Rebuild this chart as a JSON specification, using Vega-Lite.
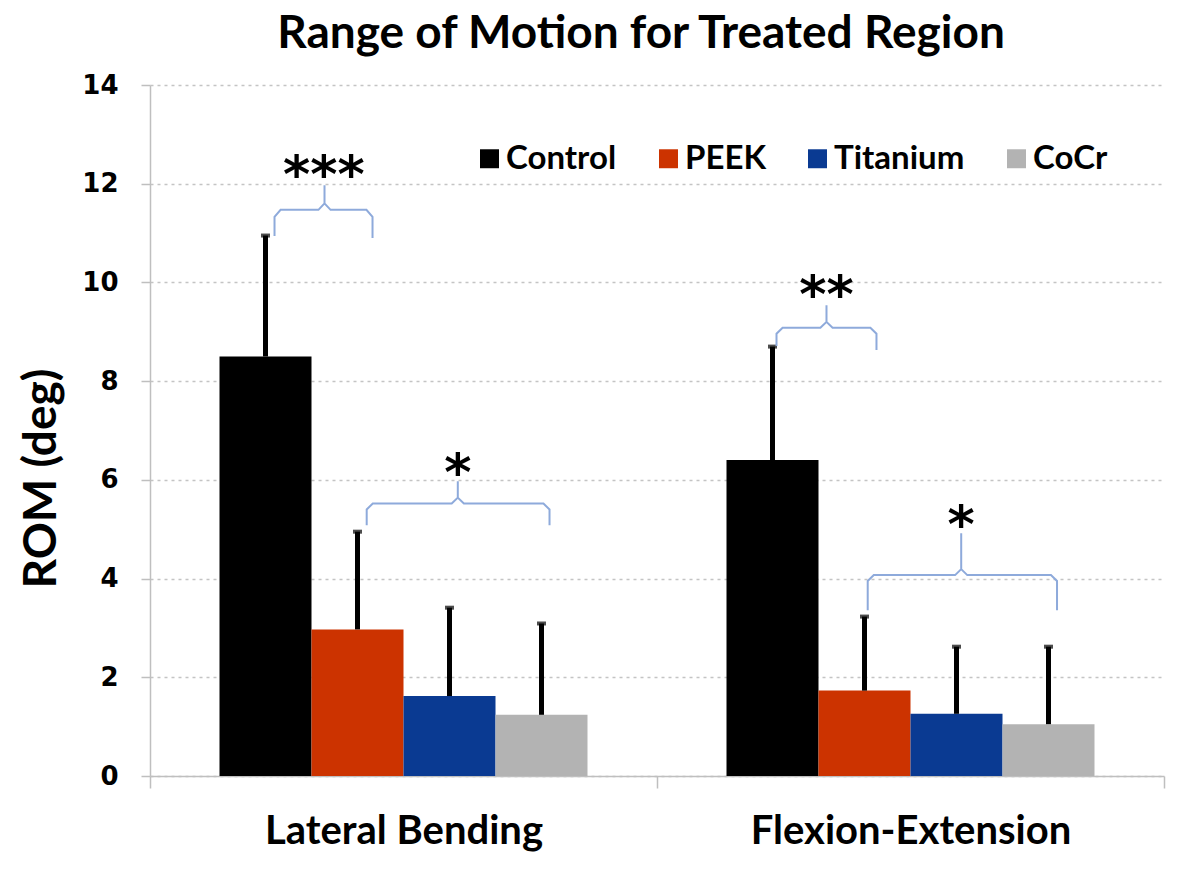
{
  "$schema": "https://vega.github.io/schema/vega-lite/v6.json",
  "width": 1014,
  "height": 691,
  "autosize": {"type": "none"},
  "padding": {"left": 150, "top": 85, "right": 36, "bottom": 95},
  "background": "white",
  "title": {"text": "Range of Motion for Treated Region", "font": "Lato", "fontSize": 46, "fontWeight": "bold", "color": "black", "anchor": "middle", "dx": -16, "offset": 14},
  "config": {
    "view": {"stroke": null},
    "axisX": {"domainColor": "#bfbfbf", "domainWidth": 1.5, "tickColor": "#bfbfbf", "tickWidth": 1.5, "tickSize": 12, "tickBand": "extent", "labelFont": "Lato", "labelFontWeight": "bold", "labelFontSize": 40, "labelColor": "black", "labelPadding": 23, "labelAngle": 0, "labelLimit": 0, "grid": false},
    "axisY": {"domainColor": "#bfbfbf", "domainWidth": 1.5, "tickColor": "#bfbfbf", "tickWidth": 1.5, "tickSize": 9, "grid": true, "gridColor": "#c4c4c4", "gridDash": [3, 4], "gridWidth": 1.5, "labelFont": "DejaVu Sans", "labelFontWeight": "bold", "labelFontSize": 26, "labelColor": "black", "labelPadding": 23, "titleFont": "Lato", "titleFontWeight": "bold", "titleFontSize": 46, "titleColor": "black", "titleX": -109, "titleY": 393, "titleAlign": "center", "titleBaseline": "middle", "titleAngle": -90},
    "legend": {"orient": "none", "legendX": 323, "legendY": 57, "direction": "horizontal", "symbolType": "square", "symbolSize": 360, "symbolStrokeWidth": 0, "symbolOpacity": 1, "labelFont": "Lato", "labelFontWeight": "bold", "labelFontSize": 33, "labelColor": "black", "columnPadding": 35, "labelOffset": 0}
  },
  "datasets": {
    "bars": [
      {"motion": "Lateral Bending", "material": "Control", "mean": 8.50, "upper": 10.95},
      {"motion": "Lateral Bending", "material": "PEEK", "mean": 2.97, "upper": 4.95},
      {"motion": "Lateral Bending", "material": "Titanium", "mean": 1.62, "upper": 3.41},
      {"motion": "Lateral Bending", "material": "CoCr", "mean": 1.24, "upper": 3.09},
      {"motion": "Flexion-Extension", "material": "Control", "mean": 6.40, "upper": 8.70},
      {"motion": "Flexion-Extension", "material": "PEEK", "mean": 1.73, "upper": 3.23},
      {"motion": "Flexion-Extension", "material": "Titanium", "mean": 1.26, "upper": 2.62},
      {"motion": "Flexion-Extension", "material": "CoCr", "mean": 1.05, "upper": 2.62}
    ],
    "braces": [
      {"brace": "a", "step": 1, "pos": 0.2456, "rom": 10.94},
      {"brace": "a", "step": 2, "pos": 0.2456, "rom": 11.33},
      {"brace": "a", "step": 3, "pos": 0.2576, "rom": 11.47},
      {"brace": "a", "step": 4, "pos": 0.3322, "rom": 11.47},
      {"brace": "a", "step": 5, "pos": 0.3442, "rom": 11.60},
      {"brace": "a", "step": 6, "pos": 0.3442, "rom": 11.97},
      {"brace": "a", "step": 7, "pos": 0.3442, "rom": 11.60},
      {"brace": "a", "step": 8, "pos": 0.3562, "rom": 11.47},
      {"brace": "a", "step": 9, "pos": 0.4269, "rom": 11.47},
      {"brace": "a", "step": 10, "pos": 0.4389, "rom": 11.33},
      {"brace": "a", "step": 11, "pos": 0.4389, "rom": 10.90},
      {"brace": "b", "step": 1, "pos": 0.4274, "rom": 5.08},
      {"brace": "b", "step": 2, "pos": 0.4274, "rom": 5.40},
      {"brace": "b", "step": 3, "pos": 0.4394, "rom": 5.52},
      {"brace": "b", "step": 4, "pos": 0.5951, "rom": 5.52},
      {"brace": "b", "step": 5, "pos": 0.6071, "rom": 5.64},
      {"brace": "b", "step": 6, "pos": 0.6071, "rom": 5.97},
      {"brace": "b", "step": 7, "pos": 0.6071, "rom": 5.64},
      {"brace": "b", "step": 8, "pos": 0.6191, "rom": 5.52},
      {"brace": "b", "step": 9, "pos": 0.7760, "rom": 5.52},
      {"brace": "b", "step": 10, "pos": 0.7880, "rom": 5.40},
      {"brace": "b", "step": 11, "pos": 0.7880, "rom": 5.08},
      {"brace": "c", "step": 1, "pos": 1.2357, "rom": 8.71},
      {"brace": "c", "step": 2, "pos": 1.2357, "rom": 8.96},
      {"brace": "c", "step": 3, "pos": 1.2477, "rom": 9.08},
      {"brace": "c", "step": 4, "pos": 1.3223, "rom": 9.08},
      {"brace": "c", "step": 5, "pos": 1.3343, "rom": 9.20},
      {"brace": "c", "step": 6, "pos": 1.3343, "rom": 9.54},
      {"brace": "c", "step": 7, "pos": 1.3343, "rom": 9.20},
      {"brace": "c", "step": 8, "pos": 1.3463, "rom": 9.08},
      {"brace": "c", "step": 9, "pos": 1.4209, "rom": 9.08},
      {"brace": "c", "step": 10, "pos": 1.4329, "rom": 8.96},
      {"brace": "c", "step": 11, "pos": 1.4329, "rom": 8.63},
      {"brace": "d", "step": 1, "pos": 1.4156, "rom": 3.36},
      {"brace": "d", "step": 2, "pos": 1.4156, "rom": 3.95},
      {"brace": "d", "step": 3, "pos": 1.4276, "rom": 4.07},
      {"brace": "d", "step": 4, "pos": 1.5880, "rom": 4.07},
      {"brace": "d", "step": 5, "pos": 1.6000, "rom": 4.19},
      {"brace": "d", "step": 6, "pos": 1.6000, "rom": 4.92},
      {"brace": "d", "step": 7, "pos": 1.6000, "rom": 4.19},
      {"brace": "d", "step": 8, "pos": 1.6120, "rom": 4.07},
      {"brace": "d", "step": 9, "pos": 1.7770, "rom": 4.07},
      {"brace": "d", "step": 10, "pos": 1.7890, "rom": 3.95},
      {"brace": "d", "step": 11, "pos": 1.7890, "rom": 3.36}
    ],
    "stars": [
      {"label": "***", "pos": 0.3430, "rom": 12.38},
      {"label": "*", "pos": 0.6071, "rom": 6.34},
      {"label": "**", "pos": 1.3343, "rom": 9.95},
      {"label": "*", "pos": 1.6000, "rom": 5.29}
    ]
  },
  "layer": [
    {
      "data": {"name": "bars"},
      "encoding": {
        "x": {"field": "motion", "type": "nominal", "sort": ["Lateral Bending", "Flexion-Extension"], "scale": {"paddingInner": 0, "paddingOuter": 0}, "title": null},
        "xOffset": {"field": "material", "type": "nominal", "sort": ["Control", "PEEK", "Titanium", "CoCr"], "scale": {"paddingInner": 0, "paddingOuter": 0.7554}}
      },
      "layer": [
        {
          "mark": {"type": "bar"},
          "encoding": {
            "y": {"field": "mean", "type": "quantitative", "scale": {"domain": [0, 14]}, "title": "ROM (deg)", "axis": {"values": [0, 2, 4, 6, 8, 10, 12, 14]}},
            "color": {"field": "material", "type": "nominal", "sort": ["Control", "PEEK", "Titanium", "CoCr"], "scale": {"domain": ["Control", "PEEK", "Titanium", "CoCr"], "range": ["#000000", "#cc3300", "#0a3a92", "#b3b3b3"]}, "legend": {"title": null}}
          }
        },
        {
          "mark": {"type": "rule", "strokeWidth": 5, "color": "black"},
          "encoding": {
            "y": {"field": "mean", "type": "quantitative", "title": "ROM (deg)", "axis": {"values": [0, 2, 4, 6, 8, 10, 12, 14]}},
            "y2": {"field": "upper"}
          }
        },
        {
          "mark": {"type": "tick", "thickness": 4, "size": 9, "color": "black", "orient": "horizontal"},
          "encoding": {
            "y": {"field": "upper", "type": "quantitative", "title": "ROM (deg)", "axis": {"values": [0, 2, 4, 6, 8, 10, 12, 14]}}
          }
        }
      ]
    },
    {
      "layer": [
        {
          "data": {"name": "braces"},
          "mark": {"type": "line", "stroke": "#8eaadb", "strokeWidth": 2, "interpolate": "linear"},
          "encoding": {
            "x": {"field": "pos", "type": "quantitative", "scale": {"domain": [0, 2], "nice": false, "zero": false}, "axis": null},
            "y": {"field": "rom", "type": "quantitative", "title": "ROM (deg)", "axis": {"values": [0, 2, 4, 6, 8, 10, 12, 14]}},
            "detail": {"field": "brace", "type": "nominal"},
            "order": {"field": "step", "type": "quantitative"}
          }
        },
        {
          "data": {"name": "stars"},
          "mark": {"type": "text", "font": "DejaVu Sans", "fontWeight": "bold", "fontSize": 52, "baseline": "alphabetic", "align": "center", "dy": 27, "color": "black"},
          "encoding": {
            "x": {"field": "pos", "type": "quantitative", "scale": {"domain": [0, 2], "nice": false, "zero": false}, "axis": null},
            "y": {"field": "rom", "type": "quantitative", "title": "ROM (deg)", "axis": {"values": [0, 2, 4, 6, 8, 10, 12, 14]}},
            "text": {"field": "label"}
          }
        }
      ]
    }
  ],
  "resolve": {"scale": {"x": "independent"}}
}
